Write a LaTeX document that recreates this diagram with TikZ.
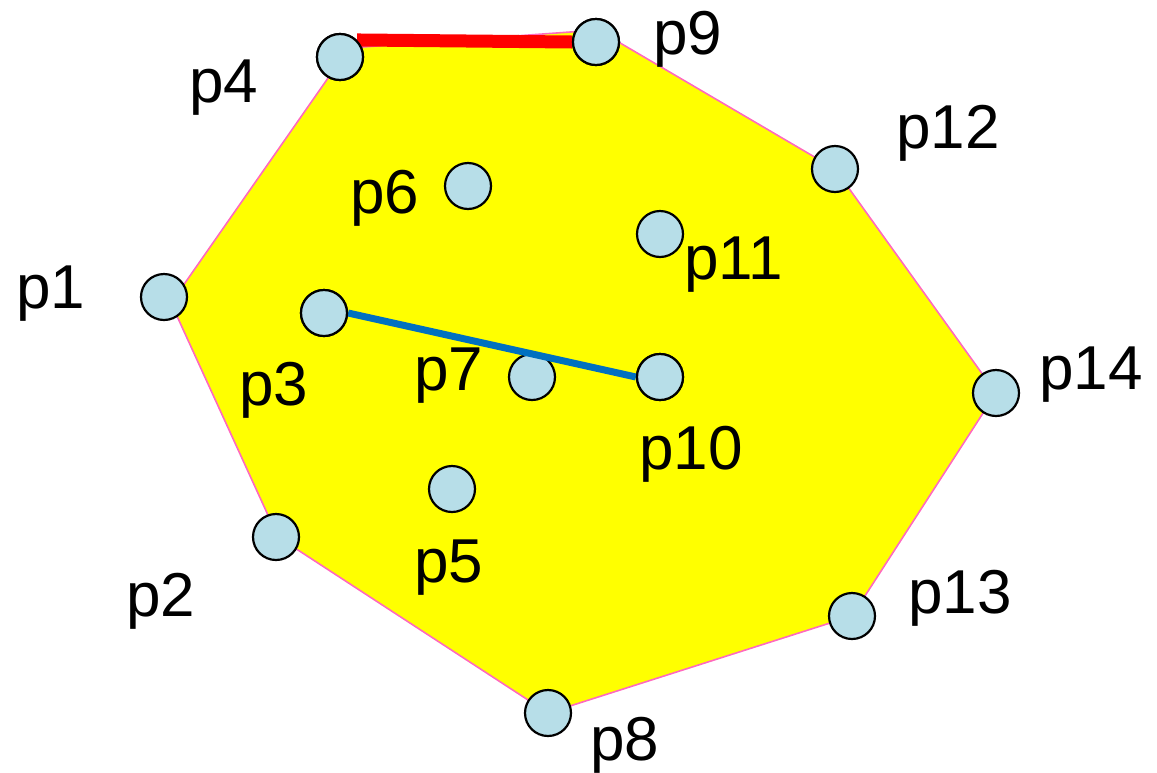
\documentclass[tikz,border=0pt]{standalone}
\usepackage{fontspec}
\setmainfont{Liberation Sans}
\definecolor{ptfill}{HTML}{B7DEE8}
\definecolor{hullpink}{RGB}{255,105,190}
\definecolor{hullyellow}{RGB}{255,255,0}
\definecolor{segblue}{HTML}{0070C0}
\begin{document}
\begin{tikzpicture}[x=1pt,y=-1pt,
  pt/.style={circle,draw=black,line width=2.2pt,fill=ptfill,minimum size=46pt,inner sep=0pt},
  lbl/.style={anchor=base west,inner sep=0pt,font=\fontsize{62}{66}\selectfont},
  hull/.style={draw=hullpink,line width=1.6pt,fill=hullyellow,line join=miter}]
\useasboundingbox (0,0) rectangle (1157,772);
% hull vertices
\coordinate (v4) at (349,48);
\coordinate (v9) at (598,30);
\coordinate (v12) at (835,169);
\coordinate (v14) at (996,393);
\coordinate (v13) at (852,616);
\coordinate (v8) at (548,713);
\coordinate (v2) at (278,537);
\coordinate (v1) at (171,303);
\draw[hull] (v4) -- (v9) -- (v12) -- (v14) -- (v13) -- (v8) -- (v2) -- (v1) -- cycle;
% points
\node[pt] (p4) at (340,57) {};
\node[pt] (p9) at (596,42) {};
\node[pt] (p12) at (835,169) {};
\node[pt] (p6) at (468,186) {};
\node[pt] (p11) at (660,234) {};
\node[pt] (p1) at (164,297) {};
\node[pt] (p3) at (324,313) {};
\node[pt] (p7) at (532,377) {};
\node[pt] (p10) at (660,377) {};
\node[pt] (p14) at (996,393) {};
\node[pt] (p5) at (452,489) {};
\node[pt] (p2) at (276,537) {};
\node[pt] (p13) at (852,616) {};
\node[pt] (p8) at (548,713) {};
% segments
\draw[red,line width=13pt] (p4.45) -- (p9.west);
\draw[segblue,line width=7pt] (p3.east) -- (p10.west);
% redraw circles on top
\foreach \n in {p4,p9,p3,p10}{\node[pt] at (\n) {};}
% labels
\node[lbl] (l4) at (189,102) {p4};
\node[lbl] (l9) at (653,54) {p9};
\node[lbl] (l12) at (896,148) {p12};
\node[lbl] (l6) at (350,213) {p6};
\node[lbl] (l11) at (684,279) {p11};
\node[lbl] (l1) at (16,308) {p1};
\node[lbl] (l3) at (239,405) {p3};
\node[lbl] (l7) at (414,390) {p7};
\node[lbl] (l5) at (414,582) {p5};
\node[lbl] (l10) at (639,469) {p10};
\node[lbl] (l14) at (1039,389) {p14};
\node[lbl] (l2) at (126,616) {p2};
\node[lbl] (l13) at (908,613) {p13};
\node[lbl] (l8) at (590,760) {p8};
\end{tikzpicture}
\end{document}
